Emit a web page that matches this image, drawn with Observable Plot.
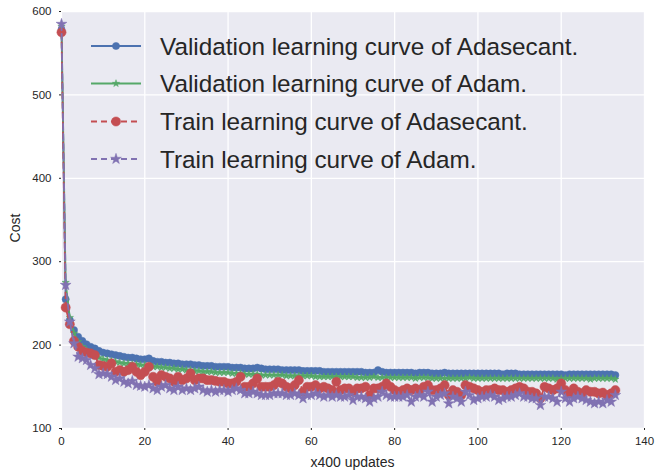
<!DOCTYPE html>
<html><head><meta charset="utf-8">
<script src="https://cdn.jsdelivr.net/npm/d3@7"></script>
<script src="https://cdn.jsdelivr.net/npm/@observablehq/plot@0.6"></script>
<style>body{margin:0;background:#fff;}</style>
</head><body><div id="chart"></div>
<script>
const valAdasecant = [
578,255,230,218,210,205,201,198,196,193,
191,190,189,188,187,186,185,185,184,183,
183,184,181,180,180,179,179,178,178,177,
177,177,176,176,175,175,175,174,174,174,
174,173,173,173,172,172,172,173,172,171,
171,171,171,170,170,170,170,170,169,169,
169,169,169,168,168,168,168,168,168,168,
168,168,168,167,167,167,170,168,167,167,
167,167,167,167,167,166,167,167,167,166,
166,166,167,166,166,166,166,166,166,166,
166,166,166,166,166,166,165,166,166,166,
165,165,165,165,165,165,165,165,165,165,
165,164,165,165,165,165,165,165,165,165,
165,165,165,164];
const valAdam = [
582,275,233,214,204,198,194,190,187,185,
183,182,181,180,179,178,178,177,177,176,
176,175,174,174,173,173,172,172,171,171,
170,170,169,169,168,168,168,167,167,167,
167,166,166,166,165,165,165,165,164,164,
164,164,164,164,163,163,163,163,163,163,
163,162,162,162,162,162,162,162,162,162,
162,161,161,161,161,162,161,161,161,161,
161,161,161,161,161,160,161,161,161,160,
160,160,160,160,160,160,160,160,161,160,
160,160,160,160,160,160,160,160,160,160,
160,160,160,160,160,160,160,160,160,159,
160,160,160,160,160,160,160,159,160,160,
160,160,160,159];
const trainAdasecant = [
575,245,225,205,198,193,191,190,188,176,
175,174,178,168,170,168,170,174,168,164,
168,174,162,156,164,162,160,156,162,158,
160,166,158,160,160,158,158,157,156,156,
154,154,156,162,150,150,154,160,150,150,
150,152,156,154,150,148,152,158,144,150,
150,152,148,150,148,146,156,146,148,148,
144,148,148,150,140,148,148,150,154,150,
146,144,146,148,146,148,146,150,152,146,
146,148,152,140,146,144,140,152,150,148,
146,144,146,146,148,146,146,144,146,148,
150,148,144,144,142,136,150,148,146,148,
154,146,142,148,144,142,146,144,144,142,
143,140,142,146];
const trainAdam = [
585,272,228,202,186,184,182,176,172,165,
166,165,162,158,160,156,154,157,152,151,
150,152,148,146,150,152,148,146,150,146,
148,146,148,150,146,144,146,144,146,146,
144,146,148,146,142,142,144,142,140,140,
140,142,142,142,140,140,142,140,136,140,
140,142,140,138,140,138,140,138,138,140,
134,138,138,136,132,136,138,144,140,138,
138,138,138,140,132,138,140,138,144,132,
138,140,142,130,138,136,132,144,140,134,
136,138,138,140,138,134,136,138,138,140,
142,138,138,136,136,128,138,138,136,132,
144,136,132,136,138,136,134,132,130,132,
130,134,132,140];

const seriesLabels = [
  "Validation learning curve of Adasecant.",
  "Validation learning curve of Adam.",
  "Train learning curve of Adasecant.",
  "Train learning curve of Adam."
];
const xLabel = "x400 updates";
const yLabel = "Cost";
const xTicks = [0,20,40,60,80,100,120,140];
const yTicks = [100,200,300,400,500,600];

const styles = [
  {values: valAdasecant, color:"#4C72B0", dash:null, symbol:"circle", r:3.6},
  {values: valAdam, color:"#55A868", dash:null, symbol:"star", r:2.3},
  {values: trainAdasecant, color:"#C44E52", dash:"6,4", symbol:"circle", r:4.6},
  {values: trainAdam, color:"#8172B2", dash:"6,4", symbol:"star", r:3.4}
];

const marks = [
  Plot.frame({fill:"#EAEAF2", stroke:null}),
  Plot.gridX(xTicks, {stroke:"#fff", strokeOpacity:1, strokeWidth:1.3}),
  Plot.gridY(yTicks, {stroke:"#fff", strokeOpacity:1, strokeWidth:1.3}),
  Plot.axisX(xTicks, {tickSize:2, tickPadding:6, fontSize:11.5, label:null}),
  Plot.axisY(yTicks, {tickSize:2, tickPadding:8, fontSize:11.5, label:null})
];
styles.forEach(s => {
  const data = s.values.map((v,i) => ({x:i, y:v}));
  marks.push(Plot.line(data, {x:"x", y:"y", stroke:s.color, strokeWidth:1.8, strokeDasharray:s.dash}));
  marks.push(Plot.dot(data, {x:"x", y:"y", fill:s.color, stroke:s.color, strokeWidth:0.5, symbol:s.symbol, r:s.r}));
});

const chart = Plot.plot({
  width:656, height:470,
  marginLeft:61, marginRight:12, marginTop:11, marginBottom:42,
  style:{fontFamily:"'Liberation Sans', Arial, sans-serif", fontSize:"12px", color:"#262626", background:"#fff"},
  x:{domain:[0,140]},
  y:{domain:[100,600]},
  marks
});
document.getElementById("chart").appendChild(chart);

const svg = d3.select(chart);
// axis titles
svg.append("text").attr("x",(61+644)/2).attr("y",462).attr("dy","0.35em")
  .attr("text-anchor","middle").attr("font-size",14).attr("fill","#262626").text(xLabel);
svg.append("text").attr("transform","translate(15,228) rotate(-90)").attr("dy","0.35em")
  .attr("text-anchor","middle").attr("font-size",14).attr("fill","#262626").text(yLabel);

// legend inside the plot area (no frame)
const lg = svg.append("g").attr("font-family","'Liberation Sans', Arial, sans-serif").attr("text-anchor","start");
const rowY = [46, 83.5, 121.5, 159];
styles.forEach((s,i) => {
  const g = lg.append("g").attr("transform", `translate(0,${rowY[i]})`);
  g.append("line").attr("x1",91).attr("x2",141).attr("y1",0).attr("y2",0)
    .attr("stroke",s.color).attr("stroke-width",1.8).attr("stroke-dasharray",s.dash);
  const sym = s.symbol === "circle" ? d3.symbolCircle : d3.symbolStar;
  g.append("path").attr("transform","translate(116,0)")
    .attr("d", d3.symbol(sym, Math.PI*s.r*s.r)())
    .attr("fill",s.color).attr("stroke",s.color).attr("stroke-width",0.5);
  g.append("text").attr("x",160).attr("y",0).attr("dy","0.35em").attr("text-anchor","start")
    .attr("font-size",24.3).attr("fill","#262626").text(seriesLabels[i]);
});
</script>
</body></html>
